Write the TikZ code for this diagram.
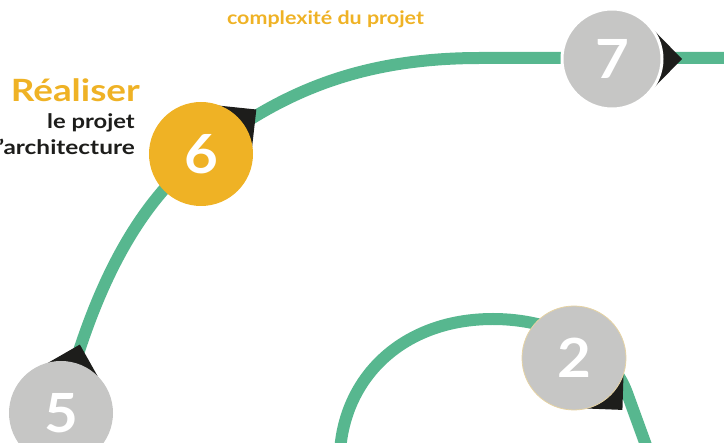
\documentclass[tikz,border=0pt]{standalone}
\usepackage{fontspec}
\setmainfont{Lato}
\usetikzlibrary{backgrounds}
\definecolor{flowgreen}{HTML}{57B78F}
\definecolor{ochre}{HTML}{EFB225}
\definecolor{stepgray}{HTML}{C6C6C5}
\definecolor{ink}{HTML}{1D1D1B}
\definecolor{tanline}{HTML}{E6D3A3}
\tikzset{
  flow/.style={draw=flowgreen, line width=12pt},
  tipfill/.style={fill=ink},
  stepcircle/.style={circle, minimum size=104pt, inner sep=0pt, text=white,
     font=\bfseries\fontsize{54}{54}\selectfont},
  bigtitle/.style={inner sep=0pt, text=ochre, font=\bfseries\fontsize{30.7}{31}\selectfont},
  subtitle/.style={inner sep=0pt, text=ink, font=\bfseries\fontsize{20}{20}\selectfont},
  toplabel/.style={inner sep=0pt, text=ochre, font=\bfseries\fontsize{18.5}{19}\selectfont},
}
\newcommand{\widen}[2]{\scalebox{#1}[1]{#2}}
\begin{document}
\begin{tikzpicture}[x=1pt,y=-1pt]
\path[use as bounding box] (0,0) rectangle (724,443);
\clip (0,0) rectangle (724,443);
% step circles
\node[stepcircle, fill=stepgray] (n5) at (61,413) {\widen{1.08}{5}};
\node[stepcircle, fill=ochre] (n6) at (201,154) {\widen{1.08}{6}};
\node[stepcircle, fill=stepgray, minimum size=100pt, draw=white, line width=3pt] (n7) at (612,59) {\widen{1.08}{7}};
\node[stepcircle, fill=stepgray, draw=tanline, line width=0.8pt] (n2) at (574,358) {\widen{1.08}{2}};
% labels
\node[toplabel, anchor=base] (cx) at (325.5,25) {\widen{1.16}{complexité du projet}};
\node[bigtitle, anchor=base east] (rl) at (140,102) {\widen{1.2}{Réaliser}};
\node[subtitle, anchor=base east] (lp) at (135,129) {\widen{1.19}{le projet}};
\node[subtitle, anchor=base east] (ar) at (135,155) {\widen{1.22}{’architecture}};
\coordinate (atop) at (480,58);
\coordinate (aend) at (740,58);
\coordinate (bstart) at (340,452);
\coordinate (btop) at (493,319);
\coordinate (bexit) at (627,393);
\coordinate (bend) at (655,470);
\begin{pgfonlayer}{background}
  \draw[flow] (n5.center) .. controls (87.25,311.2) and (126.3,212.7) .. (n6.center)
              .. controls (279.6,92.2) and (360,58) .. (atop) -- (aend);
  \draw[flow] (bstart) .. controls (344.5,377) and (403,319) .. (btop)
              .. controls (553,319) and (610,346) .. (bexit) -- (bend);
  % arrow tips
  \foreach \n/\a/\d in {n5/74.6/71, n6/38.8/71, n7/0/70, n2/-47/71}{
    \fill[tipfill] ([shift={(\a:\d pt)}]\n.center) -- ([shift={(\a+44:50pt)}]\n.center) -- ([shift={(\a-44:50pt)}]\n.center) -- cycle;
  }
\end{pgfonlayer}
\end{tikzpicture}
\end{document}
